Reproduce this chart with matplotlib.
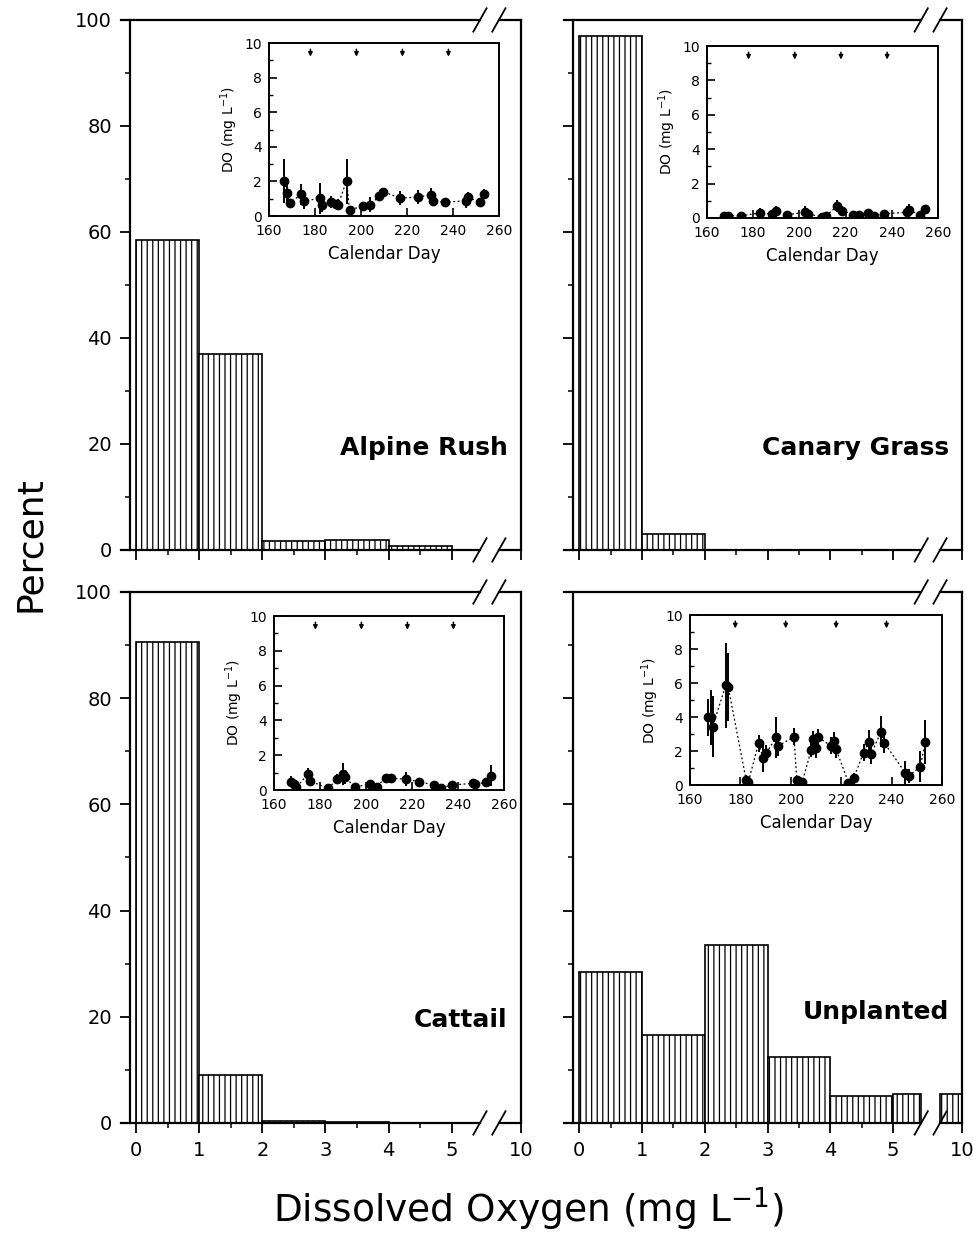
import numpy as np
from matplotlib import pyplot as plt

# histogram data (percent of samples per DO bin) ------------------------
bin_labels = ['0', '1', '2', '3', '4', '5', '10']
bin_left = [0, 1, 2, 3, 4, 5]
pct_ar = [58.5, 37.0, 1.7, 1.8, 0.8, 0.0]   # Alpine Rush
pct_cg = [97.0, 3.0, 0.0, 0.0, 0.0, 0.0]    # Canary Grass
pct_ct = [90.5, 9.0, 0.4, 0.1, 0.0, 0.0]    # Cattail
pct_up = [28.5, 16.5, 33.5, 12.5, 5.0, 5.5] # Unplanted

# inset time series (calendar day, DO mg/L, error) ----------------------
days_ar = [166.5, 167.8, 169, 174, 175, 182, 183, 187, 189, 190, 193.7, 195, 200.8,
           204, 208, 209.7, 217, 224.7, 230.3, 231.4, 236.5, 245.8, 246.3, 251.7, 253.4]
do_ar = [2.03, 1.35, 0.75, 1.25, 0.86, 1.02, 0.65, 0.8, 0.68, 0.66, 2.02, 0.35, 0.57,
         0.66, 1.16, 1.41, 1.03, 1.1, 1.21, 0.87, 0.79, 0.89, 1.1, 0.79, 1.3]
err_ar = [1.25, 0.5, 0.2, 0.6, 0.45, 0.9, 0.4, 0.35, 0.25, 0.3, 1.3, 0.15, 0.2,
          0.45, 0.25, 0.2, 0.4, 0.4, 0.4, 0.3, 0.2, 0.4, 0.3, 0.15, 0.25]

days_cg = [167.2, 169, 174.8, 183, 188, 189.8, 194.8, 202.4, 203.9, 210, 211.4, 216.4,
           218.6, 223.3, 225.8, 229.5, 232.4, 236.7, 246.8, 247.5, 252.4, 254.2]
do_cg = [0.13, 0.13, 0.13, 0.29, 0.23, 0.39, 0.19, 0.33, 0.23, 0.06, 0.1, 0.71,
         0.42, 0.19, 0.19, 0.29, 0.13, 0.25, 0.33, 0.44, 0.19, 0.54]
err_cg = [0.05, 0.05, 0.05, 0.3, 0.1, 0.3, 0.05, 0.35, 0.1, 0.03, 0.05, 0.35,
          0.3, 0.1, 0.05, 0.05, 0.05, 0.1, 0.35, 0.35, 0.1, 0.05]

days_ct = [167.5, 168.6, 169.7, 174.8, 175.5, 183.5, 187.6, 189.8, 190.8, 195.1, 201.7, 204.6,
           208.5, 210.7, 217.3, 223.1, 229.5, 232.4, 237.2, 246.6, 247.4, 252.2, 254.2]
do_ct = [0.48, 0.33, 0.15, 0.92, 0.52, 0.1, 0.63, 0.92, 0.73, 0.19, 0.33, 0.19,
         0.71, 0.67, 0.63, 0.48, 0.29, 0.1, 0.29, 0.38, 0.33, 0.44, 0.82]
err_ct = [0.3, 0.2, 0.1, 0.35, 0.3, 0.05, 0.3, 0.65, 0.4, 0.1, 0.1, 0.1,
          0.15, 0.1, 0.4, 0.2, 0.1, 0.05, 0.1, 0.1, 0.1, 0.2, 0.6]

days_up = [167, 168.3, 169, 174.2, 175.2, 182.3, 183.2, 187.2, 189.1, 190.2, 194.2, 195.1,
           201.3, 202.4, 203.7, 204.6, 208.1, 209, 209.9, 211, 215.9, 217, 218, 222.9,
           224.9, 228.9, 230.9, 231.9, 235.8, 237.1, 245.4, 246.8, 251.4, 253.4]
do_up = [3.98, 3.98, 3.43, 5.88, 5.75, 0.29, 0.2, 2.45, 1.57, 1.86, 2.8, 2.31,
         2.84, 0.29, 0.2, 0.2, 2.06, 2.7, 2.2, 2.8, 2.31, 2.6, 2.1, 0.14,
         0.39, 1.9, 2.55, 1.82, 3.14, 2.49, 0.73, 0.53, 1.08, 2.55]
err_up = [1.1, 1.6, 1.8, 2.5, 2.0, 0.3, 0.2, 0.5, 0.8, 0.5, 1.2, 0.6,
          0.5, 0.2, 0.1, 0.1, 0.4, 0.5, 0.6, 0.5, 0.5, 0.5, 0.5, 0.1,
          0.3, 0.5, 0.7, 0.6, 0.9, 0.6, 0.7, 0.4, 0.9, 1.3]

arrow_days = [178, 198, 218, 238]

# layout constants -----------------------------------------------------
X10 = 6.1            # where the "10" tick sits after the axis break
BRK = (5.45, 5.75)   # the two break slashes
XMIN = -0.1

plt.rcParams['font.family'] = 'DejaVu Sans'
plt.rcParams['hatch.linewidth'] = 0.9

fig = plt.figure(figsize=(9.73, 12.4), dpi=100)

main_pos = [[0.1336, 0.5565, 0.4018, 0.4274],
            [0.5889, 0.5565, 0.3998, 0.4274],
            [0.1336, 0.0944, 0.4018, 0.4282],
            [0.5889, 0.0944, 0.3998, 0.4282]]
inset_pos = [[0.2765, 0.8258, 0.2364, 0.1395],
             [0.7266, 0.8242, 0.2374, 0.1387],
             [0.2816, 0.3629, 0.2364, 0.1403],
             [0.7091, 0.3669, 0.2590, 0.1371]]
names = ['Alpine Rush', 'Canary Grass', 'Cattail', 'Unplanted']
name_y = [0.192, 0.192, 0.194, 0.209]
pcts = [pct_ar, pct_cg, pct_ct, pct_up]
series = [(days_ar, do_ar, err_ar), (days_cg, do_cg, err_cg),
          (days_ct, do_ct, err_ct), (days_up, do_up, err_up)]


def slash(ax, x, y):
    ax.plot([x - 0.105, x + 0.105], [y - 2.2, y + 2.2], color='k', lw=1.3, clip_on=False)


for i in range(4):
    ax = fig.add_axes(main_pos[i])
    p = pcts[i]
    # bins 0-5 as normal bars
    ax.bar(bin_left[:5], p[:5], width=1.0, align='edge', color='white',
           edgecolor='k', hatch='|||', linewidth=1.2)
    # >5 bin is drawn in two pieces around the break
    if p[5] > 0:
        ax.bar([5, BRK[1]], [p[5], p[5]], width=[BRK[0] - 5, X10 - BRK[1]],
               align='edge', color='white', edgecolor='k', hatch='|||', linewidth=1.2)

    ax.set_xlim(XMIN, X10)
    ax.set_ylim(0, 100)
    ax.spines['top'].set_visible(False)
    ax.spines['bottom'].set_visible(False)
    for s in ['left', 'right']:
        ax.spines[s].set_linewidth(1.6)
    # broken top and bottom lines
    for y in [0, 100]:
        ax.plot([XMIN - 0.14, BRK[0]], [y, y], color='k', lw=1.6, clip_on=False)
        ax.plot([BRK[1], X10], [y, y], color='k', lw=1.6, clip_on=False)
        slash(ax, BRK[0], y)
        slash(ax, BRK[1], y)

    ax.set_xticks([0, 1, 2, 3, 4, 5, X10])
    ax.set_xticks([0.5, 1.5, 2.5, 3.5, 4.5], minor=True)
    ax.set_yticks(np.arange(0, 101, 20))
    ax.set_yticks(np.arange(10, 100, 20), minor=True)
    ax.tick_params(which='major', length=7, width=1.3, labelsize=14, pad=6)
    ax.tick_params(which='minor', length=3.5, width=1.1)
    if i >= 2:
        ax.set_xticklabels(bin_labels)
    else:
        ax.set_xticklabels([])
    if i % 2 == 1:
        ax.set_yticklabels([])

    ax.text(0.966, name_y[i], names[i], transform=ax.transAxes, ha='right',
            va='center', fontsize=18, fontweight='bold')

    # inset: DO over the season
    d, v, e = series[i]
    ins = fig.add_axes(inset_pos[i])
    ins.plot(d, v, color='k', lw=0.9, linestyle=(0, (1.5, 2)))
    ins.errorbar(d, v, yerr=e, fmt='o', color='k', ms=6, elinewidth=1.4, capsize=0)
    for ad in arrow_days:
        ins.annotate('', xy=(ad, 9.05), xytext=(ad, 9.8),
                     arrowprops=dict(arrowstyle='-|>', color='k', lw=1.1, mutation_scale=6))
    ins.set_xlim(160, 260)
    ins.set_ylim(0, 10)
    ins.set_xticks(np.arange(160, 261, 20))
    ins.set_yticks(np.arange(0, 11, 2))
    ins.set_yticks(np.arange(1, 10, 2), minor=True)
    ins.tick_params(which='both', direction='in', top=False, right=False, labelsize=10)
    ins.tick_params(which='major', length=6, width=1.2)
    ins.tick_params(axis='x', which='major', pad=6)
    ins.tick_params(axis='y', which='major', pad=5)
    ins.tick_params(which='minor', length=3, width=1.0)
    for s in ins.spines.values():
        s.set_linewidth(1.4)
    ins.set_xlabel('Calendar Day', fontsize=12, labelpad=5)
    ins.set_ylabel('DO (mg L$^{-1}$)', fontsize=10, labelpad=3)

fig.text(0.031, 0.561, 'Percent', rotation=90, ha='center', va='center', fontsize=26)
fig.text(0.543, 0.025, 'Dissolved Oxygen (mg L$^{-1}$)', ha='center', va='center', fontsize=27)

fig.savefig('out.png', dpi=100)
